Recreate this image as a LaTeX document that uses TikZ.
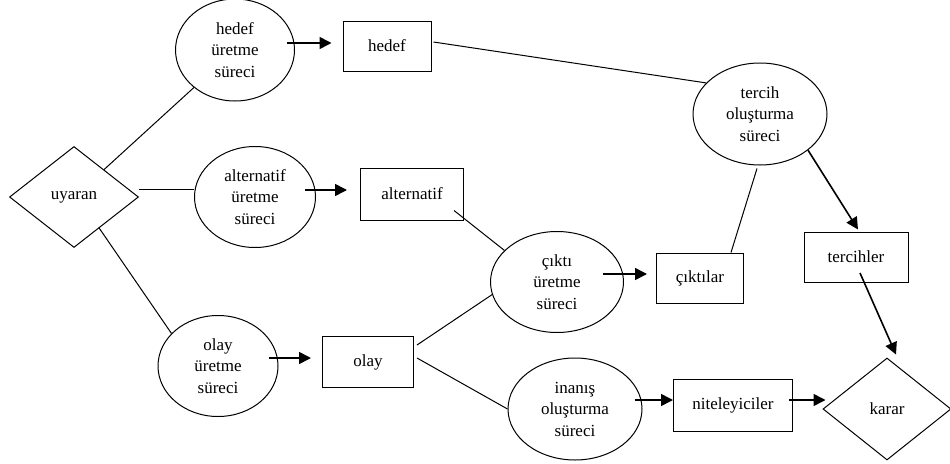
\documentclass[tikz,border=0pt]{standalone}
\usepackage{fontspec}
\setmainfont{Liberation Serif}
\usetikzlibrary{shapes.geometric,arrows.meta}
\begin{document}
\begin{tikzpicture}[x=1pt,y=-1pt,
  txt/.style={font=\fontsize{17}{21.5}\selectfont, align=center, inner sep=0pt},
  proc/.style={txt, ellipse, draw, line width=1pt, execute at begin node={\vspace*{10pt}}},
  box/.style={txt, rectangle, draw, line width=1pt},
  dia/.style={txt, diamond, draw, line width=1pt},
  ln/.style={line width=1pt},
  arr/.style={-{Triangle[length=12pt,width=12pt]}, line width=1.6pt}]
\useasboundingbox (0,0) rectangle (950,463);
% processes
\node[proc, minimum width=119pt, minimum height=102pt] (hp) at (235,50) {hedef\\üretme\\süreci};
\node[proc, minimum width=121pt, minimum height=101pt] (ap) at (255,197) {alternatif\\üretme\\süreci};
\node[proc, minimum width=120pt, minimum height=101pt] (op) at (218,366) {olay\\üretme\\süreci};
\node[proc, minimum width=133pt, minimum height=101pt] (cp) at (557,282) {çıktı\\üretme\\süreci};
\node[proc, minimum width=134pt, minimum height=102pt] (ip) at (575,409) {inanış\\oluşturma\\süreci};
\node[proc, minimum width=134pt, minimum height=102pt] (tp) at (760,114) {tercih\\oluşturma\\süreci};
% boxes
\node[box, minimum width=88pt, minimum height=50pt] (hd) at (387,46) {hedef};
\node[box, minimum width=103pt, minimum height=52pt] (ad) at (412,194) {alternatif};
\node[box, minimum width=91pt, minimum height=51pt] (od) at (368,362) {olay};
\node[box, minimum width=87pt, minimum height=50pt] (cd) at (700,278) {çıktılar};
\node[box, minimum width=104pt, minimum height=50pt] (td) at (856,257) {tercihler};
\node[box, minimum width=119pt, minimum height=52pt] (nd) at (733,405) {niteleyiciler};
% diamonds
\node[dia, minimum width=129pt, minimum height=101pt] (uy) at (74,197) {uyaran};
\node[dia, minimum width=128pt, minimum height=102pt] (kr) at (887,409) {karar};
% plain lines
\draw[ln] (uy) -- (hp);
\draw[ln] ([yshift=8pt]uy.east) -- ([yshift=8pt]ap.west);
\draw[ln] (uy.-51) -- (op.145);
\draw[ln] ([xshift=2pt,yshift=4pt]hd.east) -- (tp.150);
\draw[ln] ([xshift=-3pt,yshift=-3pt]tp.south) -- ([xshift=31pt]cd.north);
\draw[ln] ([xshift=-10pt,yshift=10pt]ad.south east) -- (cp.149);
\draw[ln] ([xshift=3pt,yshift=17pt]od.east) -- (cp.191);
\draw[ln] ([xshift=3pt,yshift=4pt]od.east) -- (ip.west);
% arrows
\draw[arr] ([xshift=-8pt,yshift=7pt]hp.east) -- ([xshift=-11pt,yshift=3pt]hd.west);
\draw[arr] ([xshift=-11pt,yshift=7pt]ap.east) -- ([xshift=-13pt,yshift=4pt]ad.west);
\draw[arr] ([xshift=-10pt,yshift=8pt]op.east) -- ([xshift=-11pt,yshift=4pt]od.west);
\draw[arr] ([xshift=-21pt,yshift=8pt]cp.east) -- ([xshift=-9pt,yshift=4pt]cd.west);
\draw[arr] ([xshift=-8pt,yshift=9pt]ip.east) -- ([yshift=5pt]nd.west);
\draw[arr] ([xshift=-4pt,yshift=5pt]nd.east) -- ([xshift=3pt,yshift=9pt]kr.west);
\draw[arr] (tp.-37) -- ([xshift=2pt,yshift=2pt]td.north);
\draw[arr] ([xshift=4pt,yshift=-16pt]td.center) -- ([xshift=9pt,yshift=3pt]kr.north);
\end{tikzpicture}
\end{document}
